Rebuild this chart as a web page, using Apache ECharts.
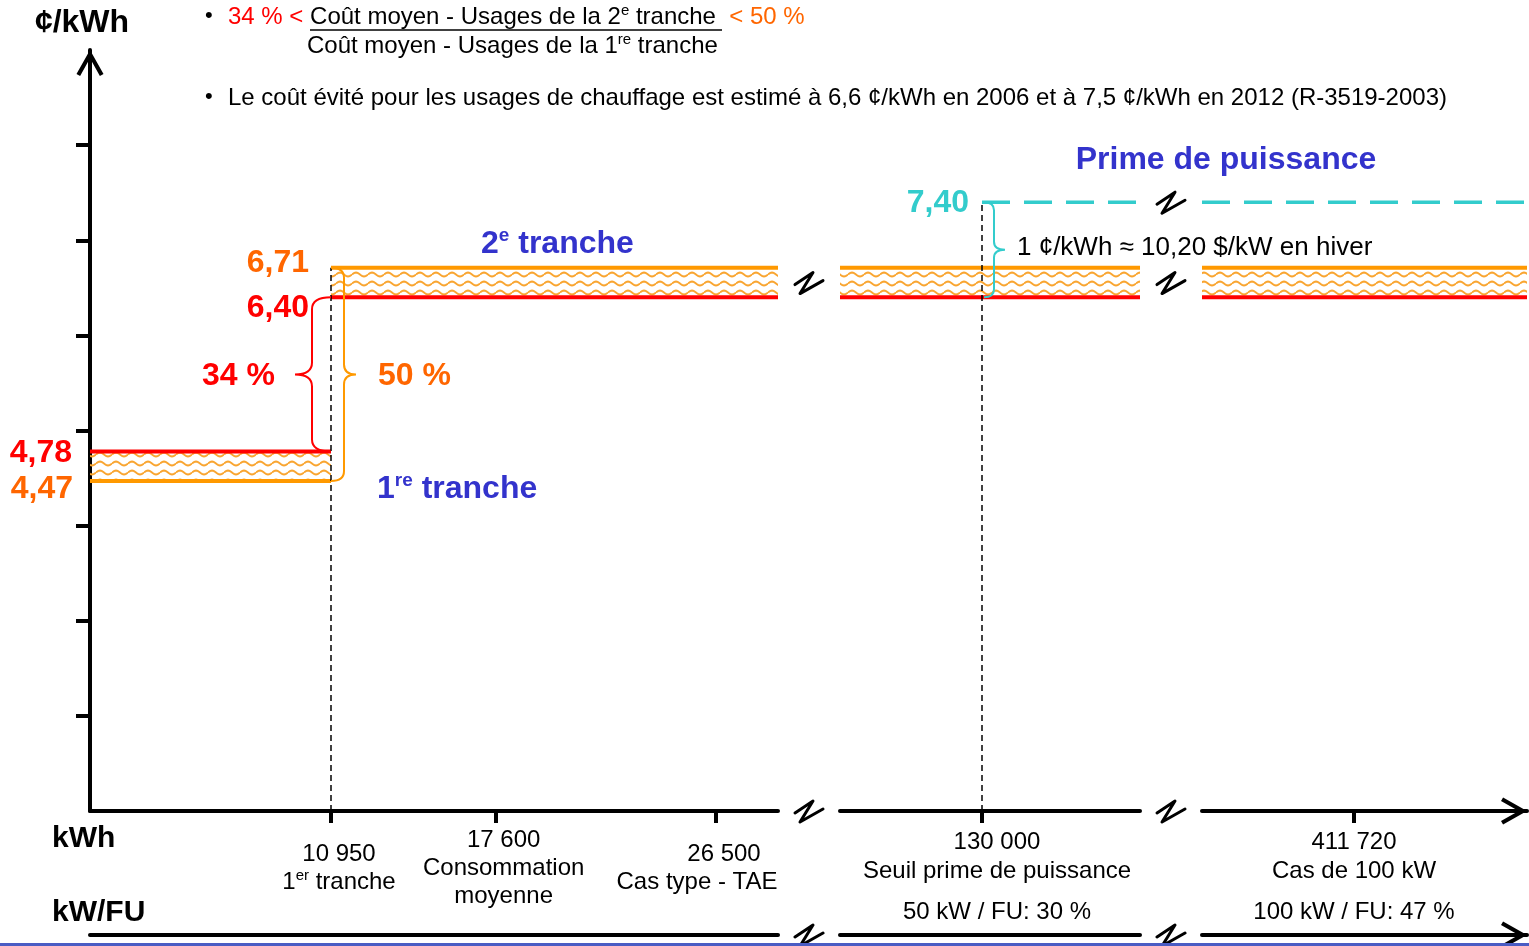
<!DOCTYPE html>
<html>
<head>
<meta charset="utf-8">
<title>Tarif D - 1re et 2e tranche</title>
<script src="https://cdn.jsdelivr.net/npm/echarts@6/dist/echarts.min.js"></script>
<style>
  html, body { margin: 0; background: #fff; }
  #main { width: 1529px; height: 946px; }
</style>
</head>
<body>
<div id="main"></div>
<script>
// ---- données (¢/kWh et kWh) ----
var prix1reTranche = [4.78, 4.47];      // [rouge, orange]
var prix2eTranche = [6.40, 6.71];       // [rouge, orange]
var primePuissance = 7.40;
var limite1reTranche = 10950;
var seuilPrime = 130000;
var ticksKwh = [[10950, 17600, 26500], [130000], [411720]];
var labelsKwh = [
  ['{n|10 950}\n{n|1}{s|er}{n| tranche}', '17 600\nConsommation\nmoyenne', '26 500\n{c|Cas type - TAE}'],
  ['130 000\nSeuil prime de puissance'],
  ['411 720\nCas de 100 kW']
];
var labelsFU = [[], ['50 kW / FU: 30 %'], ['100 kW / FU: 47 %']];
var ticksY = [2, 3, 4, 5, 6, 7, 8];
var ecartsTexte = ['34 %', '50 %', '1 ¢/kWh ≈ 10,20 $/kW en hiver'];

// ---- mise en page ----
var FONT = '"Liberation Sans", Arial, sans-serif';
var ROUGE = '#ff0000', ORANGE = '#ff9900', ORANGE_TXT = '#ff6600', CYAN = '#33cccc', BLEU = '#3333cc';
var FLECHE = 'path://M13,0 L26,23 L22.5,25 L13,8 L3.5,25 L0,23 Z';
var grilles = [
  { left: 90, right: 751, top: 50, height: 761 },
  { left: 840, right: 389, top: 50, height: 761 },
  { left: 1202, right: 2, top: 50, height: 761 }
];
var bornesX = [[1216, 29004], [115800, 145800], [259720, 584720]];
var decalLabels = [16, 30, 0];   // petit décalage horizontal des libellés

// motif ondulé de la bande
var motif = document.createElement('canvas');
motif.width = 16; motif.height = 9;
var ctx = motif.getContext('2d');
ctx.strokeStyle = '#f9a530';
ctx.lineWidth = 2;
ctx.beginPath();
for (var i = 0; i <= 16; i++) {
  var yy = 4.5 - 2 * Math.sin(i / 16 * Math.PI * 2);
  if (i === 0) ctx.moveTo(i, yy); else ctx.lineTo(i, yy);
}
ctx.stroke();

function fmt(v) { return v.toFixed(2).replace('.', ','); }

function etiquette(v, color, dist, dy) {
  return { show: true, position: 'left', distance: dist, offset: [0, dy], formatter: fmt(v),
    color: color, fontFamily: FONT, fontWeight: 'bold', fontSize: 32 };
}

function ligne(g, data, color, extra) {
  var s = { type: 'line', xAxisIndex: g, yAxisIndex: g, data: data, symbol: 'circle', symbolSize: 0,
    showSymbol: true, lineStyle: { color: color, width: 4 }, itemStyle: { color: color },
    silent: true, z: 3 };
  for (var k in (extra || {})) s[k] = extra[k];
  return s;
}

function bande(x0, x1, lo, hi) {
  return { silent: true, itemStyle: { color: { image: motif, repeat: 'repeat' } },
    data: [[{ coord: [x0, lo] }, { coord: [x1, hi] }]] };
}

var stylesAccolade = [
  { color: ROUGE, dir: -1, dx: 0, spine: 19, tip: 17, r: 12, gap: 20, dy: 2, font: 'bold 32px ' + FONT, fill: ROUGE },
  { color: ORANGE, dir: 1, dx: 0, spine: 13, tip: 12, r: 10, gap: 22, dy: 2, font: 'bold 32px ' + FONT, fill: ORANGE_TXT },
  { color: CYAN, dir: 1, dx: 2, spine: 10, tip: 11, r: 8, gap: 12, dy: -2, font: '26px ' + FONT, fill: '#000' }
];

function accolade(params, api) {
  var idx = api.value(3);
  var st = stylesAccolade[idx];
  var p1 = api.coord([api.value(0), api.value(1)]);
  var p2 = api.coord([api.value(0), api.value(2)]);
  var x0 = p1[0] + st.dx, ya = Math.min(p1[1], p2[1]), yb = Math.max(p1[1], p2[1]);
  var xs = x0 + st.dir * st.spine, xt = xs + st.dir * st.tip, ym = (ya + yb) / 2, r = st.r;
  var d = 'M' + x0 + ',' + ya + ' Q' + xs + ',' + ya + ' ' + xs + ',' + (ya + r) +
    ' L' + xs + ',' + (ym - r) + ' Q' + xs + ',' + ym + ' ' + xt + ',' + ym +
    ' Q' + xs + ',' + ym + ' ' + xs + ',' + (ym + r) +
    ' L' + xs + ',' + (yb - r) + ' Q' + xs + ',' + yb + ' ' + x0 + ',' + yb;
  return { type: 'group', children: [
    { type: 'path', shape: { pathData: d }, style: { stroke: st.color, lineWidth: 2, fill: 'none' } },
    { type: 'text', x: xt + st.dir * st.gap, y: ym + st.dy,
      style: { text: ecartsTexte[idx], font: st.font, fill: st.fill, align: st.dir < 0 ? 'right' : 'left', verticalAlign: 'middle' } }
  ] };
}

var richTicks = {
  n: { fontSize: 24, lineHeight: 28, fontFamily: FONT, color: '#000' },
  s: { fontSize: 15, lineHeight: 16, verticalAlign: 'top', fontFamily: FONT, color: '#000' },
  c: { fontSize: 24, lineHeight: 28, fontFamily: FONT, color: '#000', padding: [0, 54, 0, 0] }
};

var xAxes = [], yAxes = [];
[0, 1, 2].forEach(function (g) {
  var ticks = ticksKwh[g], labs = labelsKwh[g];
  xAxes.push({
    type: 'value', gridIndex: g, position: 'bottom', min: bornesX[g][0], max: bornesX[g][1],
    splitLine: { show: false },
    axisLine: { show: true, onZero: false, symbol: g === 2 ? ['none', FLECHE] : 'none', symbolSize: [28, 26],
      symbolOffset: [0, -13], lineStyle: { color: '#000', width: 4 } },
    axisTick: { show: true, customValues: ticks, length: 12, lineStyle: { color: '#000', width: 4 } },
    axisLabel: { show: true, customValues: ticks, formatter: function (v) { return labs[ticks.indexOf(v)]; },
      fontFamily: FONT, fontSize: 24, color: '#000', lineHeight: g === 0 ? 28 : 29,
      verticalAlign: 'middle', margin: g === 0 ? 57 : 46, padding: [0, 0, 0, decalLabels[g]], rich: richTicks }
  });
  yAxes.push({
    type: 'value', gridIndex: g, min: 1, max: 9, show: g === 0,
    splitLine: { show: false }, axisLabel: { show: false },
    axisLine: { show: true, onZero: false, symbol: ['none', FLECHE], symbolSize: [28, 26], symbolOffset: [0, -13],
      lineStyle: { color: '#000', width: 4 } },
    axisTick: { show: true, customValues: ticksY, length: 14, lineStyle: { color: '#000', width: 4 } }
  });
});
// axe kW/FU
[0, 1, 2].forEach(function (g) {
  var ticks = ticksKwh[g], fu = labelsFU[g];
  xAxes.push({
    type: 'value', gridIndex: g, position: 'bottom', offset: 124, min: bornesX[g][0], max: bornesX[g][1],
    splitLine: { show: false },
    axisLine: { show: true, onZero: false, symbol: g === 2 ? ['none', FLECHE] : 'none', symbolSize: [28, 26],
      symbolOffset: [0, -13], lineStyle: { color: '#000', width: 4 } },
    axisTick: { show: false },
    axisLabel: { show: g > 0, inside: true, customValues: ticks, formatter: function () { return fu[0]; },
      fontFamily: FONT, fontSize: 24, color: '#000', verticalAlign: 'middle', margin: 23,
      padding: [0, 0, 0, decalLabels[g]] }
  });
});

var series = [
  // 1re tranche
  ligne(0, [{ value: [bornesX[0][0], prix1reTranche[0]], label: etiquette(prix1reTranche[0], ROUGE, 18, 2) },
    [limite1reTranche, prix1reTranche[0]]], ROUGE,
    { markArea: bande(bornesX[0][0], limite1reTranche, prix1reTranche[1], prix1reTranche[0]) }),
  ligne(0, [{ value: [bornesX[0][0], prix1reTranche[1]], label: etiquette(prix1reTranche[1], ORANGE_TXT, 17, 8) },
    [limite1reTranche, prix1reTranche[1]]], ORANGE),
  // 2e tranche, grille 1
  ligne(0, [{ value: [limite1reTranche, prix2eTranche[0]], label: etiquette(prix2eTranche[0], ROUGE, 22, 11) },
    [bornesX[0][1], prix2eTranche[0]]], ROUGE),
  ligne(0, [{ value: [limite1reTranche, prix2eTranche[1]], label: etiquette(prix2eTranche[1], ORANGE_TXT, 22, -5) },
    [bornesX[0][1], prix2eTranche[1]]], ORANGE,
    { markArea: bande(limite1reTranche, bornesX[0][1], prix2eTranche[0], prix2eTranche[1]) }),
  ligne(0, [[limite1reTranche, 1], [limite1reTranche, prix2eTranche[1]]], '#000',
    { lineStyle: { color: '#000', width: 1.5, type: [6, 4] }, z: 4 }),
  { type: 'custom', xAxisIndex: 0, yAxisIndex: 0, renderItem: accolade, silent: true, z: 5,
    encode: { x: 0, y: [1, 2] },
    data: [[limite1reTranche, prix1reTranche[0], prix2eTranche[0], 0],
           [limite1reTranche, prix1reTranche[1], prix2eTranche[1], 1]] }
];
[1, 2].forEach(function (g) {
  series.push(ligne(g, [[bornesX[g][0], prix2eTranche[0]], [bornesX[g][1], prix2eTranche[0]]], ROUGE));
  series.push(ligne(g, [[bornesX[g][0], prix2eTranche[1]], [bornesX[g][1], prix2eTranche[1]]], ORANGE,
    { markArea: bande(bornesX[g][0], bornesX[g][1], prix2eTranche[0], prix2eTranche[1]) }));
});
// prime de puissance
series.push(ligne(1, [{ value: [seuilPrime, primePuissance], label: etiquette(primePuissance, CYAN, 13, 1) },
  [bornesX[1][1], primePuissance]], CYAN, { lineStyle: { color: CYAN, width: 3.5, type: [28, 14] } }));
series.push(ligne(2, [[bornesX[2][0], primePuissance], [bornesX[2][1], primePuissance]], CYAN,
  { lineStyle: { color: CYAN, width: 3.5, type: [28, 14] } }));
series.push(ligne(1, [[seuilPrime, 1], [seuilPrime, primePuissance]], '#000',
  { lineStyle: { color: '#000', width: 1.5, type: [6, 4] }, z: 4 }));
series.push({ type: 'custom', xAxisIndex: 1, yAxisIndex: 1, renderItem: accolade, silent: true, z: 5,
  encode: { x: 0, y: [1, 2] }, data: [[seuilPrime, prix2eTranche[0], primePuissance, 2]] });

var chart = echarts.init(document.getElementById('main'));
chart.setOption({
  animation: false,
  backgroundColor: '#fff',
  grid: grilles,
  xAxis: xAxes,
  yAxis: yAxes,
  series: series
});

// ---- annotations ----
function yPix(v) { return chart.convertToPixel({ yAxisIndex: 0 }, v); }
function coupure(x, y) {
  return { type: 'polyline', x: x, y: y, shape: { points: [[-14, 2], [4, -10], [-9, 11], [14, -2]] },
    style: { stroke: '#000', lineWidth: 3, fill: 'none', lineJoin: 'round', lineCap: 'round' }, z: 10 };
}
function texte(x, y, t, font, fill, align, rich) {
  var st = { text: t, font: font, fill: fill, align: align || 'left', verticalAlign: 'middle' };
  if (rich) st.rich = rich;
  return { type: 'text', x: x, y: y, style: st, z: 10 };
}
var xc1 = (778 + 840) / 2, xc2 = (1140 + 1202) / 2;
var yAxe = yPix(1), yBande = yPix((prix2eTranche[0] + prix2eTranche[1]) / 2), yPrime = yPix(primePuissance);
var richBleu = {
  b: { fontSize: 32, fontWeight: 'bold', fill: BLEU, fontFamily: FONT, lineHeight: 36 },
  s: { fontSize: 19, fontWeight: 'bold', fill: BLEU, fontFamily: FONT, lineHeight: 22, verticalAlign: 'top' }
};
var richTitre = {
  r: { fontSize: 24, fill: ROUGE, fontFamily: FONT, lineHeight: 28 },
  n: { fontSize: 24, fill: '#000', fontFamily: FONT, lineHeight: 28 },
  o: { fontSize: 24, fill: ORANGE_TXT, fontFamily: FONT, lineHeight: 28 },
  s: { fontSize: 15, fill: '#000', fontFamily: FONT, lineHeight: 16, verticalAlign: 'top' }
};

chart.setOption({
  graphic: [
    texte(82, 23, '¢/kWh', 'bold 32px ' + FONT, '#000', 'center'),
    texte(52, 839, 'kWh', 'bold 30px ' + FONT, '#000'),
    texte(52, 913, 'kW/FU', 'bold 30px ' + FONT, '#000'),
    texte(205, 16, '•', '22px ' + FONT, '#000'),
    texte(228, 17, '{r|34 % < }{n|Coût moyen - Usages de la 2}{s|e}{n| tranche }{o| < 50 %}', '24px ' + FONT, '#000', 'left', richTitre),
    { type: 'line', shape: { x1: 310, y1: 30, x2: 722, y2: 30 }, style: { stroke: '#000', lineWidth: 1.5 }, z: 10 },
    texte(307, 46, '{n|Coût moyen - Usages de la 1}{s|re}{n| tranche}', '24px ' + FONT, '#000', 'left', richTitre),
    texte(205, 97, '•', '22px ' + FONT, '#000'),
    texte(228, 98, 'Le coût évité pour les usages de chauffage est estimé à 6,6 ¢/kWh en 2006 et à 7,5 ¢/kWh en 2012 (R-3519-2003)', '24px ' + FONT, '#000'),
    texte(1226, 160, 'Prime de puissance', 'bold 32px ' + FONT, BLEU, 'center'),
    texte(481, 244, '{b|2}{s|e}{b| tranche}', 'bold 32px ' + FONT, BLEU, 'left', richBleu),
    texte(377, 489, '{b|1}{s|re}{b| tranche}', 'bold 32px ' + FONT, BLEU, 'left', richBleu),
    coupure(xc1, yAxe), coupure(xc2, yAxe),
    coupure(xc1, yAxe + 124), coupure(xc2, yAxe + 124),
    coupure(xc1, yBande), coupure(xc2, yBande),
    coupure(xc2, yPrime),
    { type: 'rect', shape: { x: 0, y: 943, width: 1529, height: 3 }, style: { fill: '#4a5cc4' }, z: 10 }
  ]
});
</script>
</body>
</html>
